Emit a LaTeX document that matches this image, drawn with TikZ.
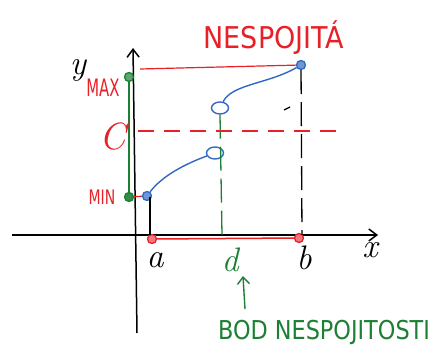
\documentclass[tikz,border=0pt]{standalone}
\usepackage{fontspec}
\setsansfont{DejaVu Sans}
\usetikzlibrary{positioning,arrows.meta,shapes.geometric}

\definecolor{pen red}{RGB}{232,32,40}
\definecolor{pen blue}{RGB}{48,104,196}
\definecolor{pen green}{RGB}{28,128,52}

\begin{document}
\begin{tikzpicture}[x=1pt,y=-1pt,
    axis/.style={draw=black, line width=1.5pt, -{Straight Barb[length=8pt,width=12pt]}},
    guide/.style={draw=black, line width=1.3pt, dash pattern=on 24pt off 8pt},
    dguide/.style={draw=pen green, line width=1.3pt, dash pattern=on 24pt off 8pt},
    cline/.style={draw=pen red, line width=1.4pt, dash pattern=on 16pt off 10pt},
    graph/.style={draw=pen blue, line width=1.4pt},
    fullpt/.style={circle, line width=1.3pt, inner sep=0pt, minimum size=9pt},
    openpt/.style={ellipse, draw=pen blue, line width=1.4pt, inner sep=0pt, minimum width=17pt, minimum height=12pt},
    redlbl/.style={text=pen red, font=\sffamily},
    greenlbl/.style={text=pen green, font=\sffamily},
    axlbl/.style={font=\rmfamily\itshape\fontsize{34}{34}\selectfont}
]
    \useasboundingbox (0,0) rectangle (437,358);

    % axes
    \coordinate (xl) at (12,235);
    \coordinate (xr) at (378,235);
    \coordinate (yb) at (137,333);
    \coordinate (yt) at (133,48);
    \draw[axis] (xl) -- (xr);
    \draw[axis] (yb) -- (yt);
    \node[axlbl] (ylab) at (78,70) {y};
    \node[axlbl] (xlab) at (370,250) {x};

    % interval <a,b>
    \node[fullpt, draw=pen red, fill=pen red!60] (a) at (152,239) {};
    \node[fullpt, draw=pen red, fill=pen red!60] (b) at (299,238) {};
    \draw[pen red, line width=1.5pt] (a) -- (b);
    \node[axlbl] (alab) at (155,260) {a};
    \node[axlbl] (blab) at (304,258) {b};

    % function values
    \node[fullpt, draw=pen blue, fill=pen blue!70] (minB) at (147,196) {};
    \node[openpt] (lowO) at (215,153) {};
    \node[openpt] (upO) at (220,108) {};
    \node[fullpt, draw=pen blue, fill=pen blue!70] (maxB) at (301,65) {};
    \draw[graph] (minB) .. controls (162,176) and (185,164) .. (lowO);
    \draw[graph] (upO) .. controls (232,84) and (268,84) .. (maxB);

    % extremes on y axis
    \node[fullpt, draw=pen green, fill=pen green!70] (maxG) at (129,77) {};
    \node[fullpt, draw=pen green, fill=pen green!90] (minG) at (129,197) {};
    \draw[pen green, line width=1.5pt] (maxG) -- (minG);
    \draw[pen red, line width=1.3pt] (minG) -- (minB);
    \coordinate (maxL) at (140,69);
    \draw[pen red, line width=1.2pt] (maxL) -- (maxB);
    \node[redlbl, font=\sffamily\fontsize{24}{24}\selectfont, xscale=0.62] (maxlab) at (103,88) {MAX};
    \node[redlbl, font=\sffamily\fontsize{20}{20}\selectfont, xscale=0.7] (minlab) at (102,197) {MIN};

    % guides down to the x axis
    \coordinate (aTop) at (150,197);
    \coordinate (aBot) at (150,235);
    \draw[black, line width=1.3pt] (aTop) -- (aBot);
    \coordinate (bBot) at (302,235);
    \draw[guide] (maxB) -- (bBot);
    \coordinate (tickL) at (284,110);
    \coordinate (tickR) at (290,107);
    \draw[black, line width=1.3pt] (tickL) -- (tickR);

    % point of discontinuity
    \coordinate (dBot) at (222,235);
    \draw[dguide] (upO.south) -- (dBot);
    \node[axlbl, text=pen green] (dlab) at (230,260) {d};
    \coordinate (arrB) at (245,309);
    \coordinate (arrT) at (243,276);
    \draw[pen green, line width=1.4pt, -{Straight Barb[length=7pt,width=12pt]}] (arrB) -- (arrT);
    \node[greenlbl, font=\sffamily\fontsize{26}{26}\selectfont, xscale=0.86] (bod) at (324,332) {BOD NESPOJITOSTI};

    % level C
    \coordinate (cL) at (138,131);
    \coordinate (cR) at (344,131);
    \draw[cline] (cL) -- (cR);
    \node[redlbl, font=\rmfamily\itshape\fontsize{38}{38}\selectfont] (clab) at (113,137) {C};

    % title
    \node[redlbl, font=\sffamily\fontsize{30}{30}\selectfont, xscale=0.9] (title) at (274,38) {NESPOJITÁ};
\end{tikzpicture}
\end{document}
